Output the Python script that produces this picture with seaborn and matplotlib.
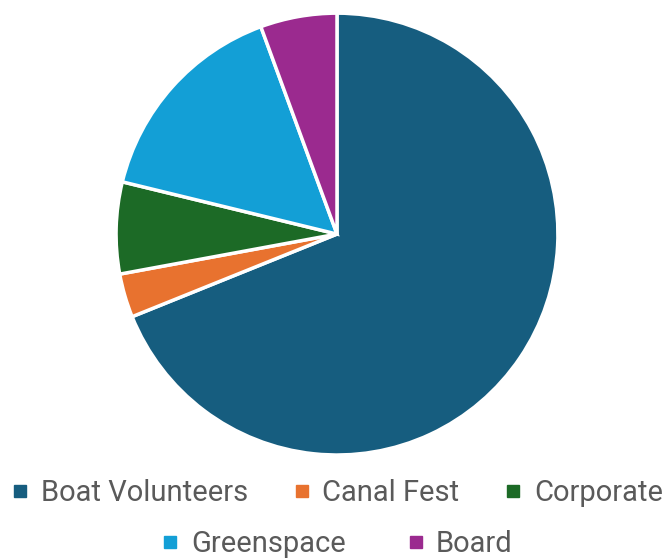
import matplotlib
matplotlib.use("Agg")
import matplotlib.pyplot as plt
from matplotlib.lines import Line2D
import seaborn as sns

categories = ["Boat Volunteers", "Canal Fest", "Corporate", "Greenspace", "Board"]
values = [68.9, 3.2, 6.7, 15.6, 5.6]
colors = ["#165d7f", "#e8722f", "#1c6a26", "#139fd6", "#9b2a8f"]

sns.set_theme(style="white")
plt.rcParams['font.family'] = ['Roboto', 'DejaVu Sans']

fig = plt.figure(figsize=(6.65, 5.6), dpi=100)
ax = fig.add_axes([0.1744, 0.1875, 0.6647, 0.789])
ax.pie(values, colors=colors, startangle=90, counterclock=False,
       wedgeprops=dict(edgecolor="white", linewidth=2.5))
ax.set_xlim(-1, 1)
ax.set_ylim(-1, 1)
ax.set_aspect("equal")

def handle(c):
    return Line2D([], [], marker="s", linestyle="none", markersize=8,
                  markerfacecolor=c, markeredgecolor=c)

h = [handle(c) for c in colors]
kw = dict(frameon=False, fontsize=21, labelcolor="#5a5a5a", handletextpad=0.3,
          handlelength=0.8, borderaxespad=0, borderpad=0)
leg1 = fig.legend(h[:3], categories[:3], loc="center", bbox_to_anchor=(0.505, 1 - 493 / 560),
                  ncol=3, columnspacing=1.45, **kw)
leg2 = fig.legend(h[3:], categories[3:], loc="center", bbox_to_anchor=(0.505, 1 - 544 / 560),
                  ncol=2, columnspacing=2.0, **kw)

fig.savefig("out.png", dpi=100)
